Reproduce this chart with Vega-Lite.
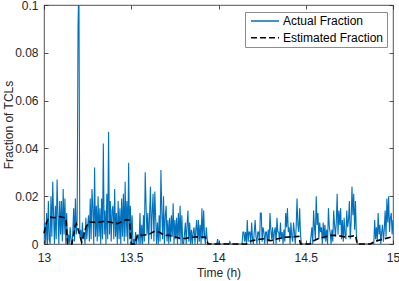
{
  "$schema": "https://vega.github.io/schema/vega-lite/v6.json",
  "width": 349,
  "height": 239,
  "autosize": "none",
  "padding": {"left": 44, "top": 5, "right": 6, "bottom": 37},
  "background": "white",
  "datasets": {
    "actual": [
      {"t":13.000,"v":0.002},{"t":13.005,"v":0.009},{"t":13.010,"v":0},{"t":13.015,"v":0.013},{"t":13.020,"v":0},{"t":13.025,"v":0.018},{"t":13.030,"v":0.002},{"t":13.035,"v":0},{"t":13.040,"v":0.020},{"t":13.045,"v":0.003},
      {"t":13.050,"v":0.026},{"t":13.055,"v":0.012},{"t":13.060,"v":0},{"t":13.065,"v":0.016},{"t":13.070,"v":0.002},{"t":13.075,"v":0.027},{"t":13.080,"v":0.012},{"t":13.085,"v":0},{"t":13.090,"v":0.018},{"t":13.095,"v":0.004},
      {"t":13.100,"v":0.018},{"t":13.105,"v":0.001},{"t":13.110,"v":0.023},{"t":13.115,"v":0.004},{"t":13.120,"v":0.019},{"t":13.125,"v":0},{"t":13.130,"v":0.013},{"t":13.135,"v":0},{"t":13.140,"v":0.004},{"t":13.145,"v":0},
      {"t":13.150,"v":0.007},{"t":13.155,"v":0.001},{"t":13.160,"v":0},{"t":13.165,"v":0.005},{"t":13.170,"v":0.015},{"t":13.175,"v":0.001},{"t":13.180,"v":0.019},{"t":13.185,"v":0.004},{"t":13.190,"v":0.010},{"t":13.195,"v":0.091},
      {"t":13.200,"v":0.110},{"t":13.205,"v":0.003},{"t":13.210,"v":0.006},{"t":13.215,"v":0},{"t":13.220,"v":0.009},{"t":13.225,"v":0.002},{"t":13.230,"v":0.005},{"t":13.235,"v":0},{"t":13.240,"v":0.011},{"t":13.245,"v":0.002},
      {"t":13.250,"v":0.007},{"t":13.255,"v":0.012},{"t":13.260,"v":0.001},{"t":13.265,"v":0.019},{"t":13.270,"v":0.002},{"t":13.275,"v":0.023},{"t":13.280,"v":0.015},{"t":13.285,"v":0},{"t":13.290,"v":0.032},{"t":13.295,"v":0.003},
      {"t":13.300,"v":0.016},{"t":13.305,"v":0.001},{"t":13.310,"v":0.020},{"t":13.315,"v":0.003},{"t":13.320,"v":0.015},{"t":13.325,"v":0},{"t":13.330,"v":0.019},{"t":13.335,"v":0.002},{"t":13.340,"v":0.042},{"t":13.345,"v":0.004},
      {"t":13.350,"v":0.014},{"t":13.355,"v":0},{"t":13.360,"v":0.021},{"t":13.365,"v":0.002},{"t":13.370,"v":0.047},{"t":13.375,"v":0.004},{"t":13.380,"v":0.018},{"t":13.385,"v":0.001},{"t":13.390,"v":0.014},{"t":13.395,"v":0.016},
      {"t":13.400,"v":0.002},{"t":13.405,"v":0.023},{"t":13.410,"v":0.003},{"t":13.415,"v":0.013},{"t":13.420,"v":0},{"t":13.425,"v":0.018},{"t":13.430,"v":0.002},{"t":13.435,"v":0.015},{"t":13.440,"v":0},{"t":13.445,"v":0.019},
      {"t":13.450,"v":0.003},{"t":13.455,"v":0.021},{"t":13.460,"v":0.001},{"t":13.465,"v":0.026},{"t":13.470,"v":0.003},{"t":13.475,"v":0.018},{"t":13.480,"v":0},{"t":13.485,"v":0.034},{"t":13.490,"v":0.002},{"t":13.495,"v":0.016},
      {"t":13.500,"v":0},{"t":13.505,"v":0.012},{"t":13.510,"v":0},{"t":13.515,"v":0.002},{"t":13.520,"v":0},{"t":13.525,"v":0.005},{"t":13.530,"v":0},{"t":13.535,"v":0.003},{"t":13.540,"v":0.004},{"t":13.545,"v":0},
      {"t":13.550,"v":0.013},{"t":13.555,"v":0},{"t":13.560,"v":0.008},{"t":13.565,"v":0},{"t":13.570,"v":0.012},{"t":13.575,"v":0.001},{"t":13.580,"v":0.030},{"t":13.585,"v":0.016},{"t":13.590,"v":0.004},{"t":13.595,"v":0.013},
      {"t":13.600,"v":0},{"t":13.605,"v":0.012},{"t":13.610,"v":0.024},{"t":13.615,"v":0.002},{"t":13.620,"v":0.013},{"t":13.625,"v":0.021},{"t":13.630,"v":0.001},{"t":13.635,"v":0.022},{"t":13.640,"v":0.011},{"t":13.645,"v":0},
      {"t":13.650,"v":0.009},{"t":13.655,"v":0},{"t":13.660,"v":0.012},{"t":13.665,"v":0.001},{"t":13.670,"v":0.031},{"t":13.675,"v":0.014},{"t":13.680,"v":0.002},{"t":13.685,"v":0.020},{"t":13.690,"v":0},{"t":13.695,"v":0.012},
      {"t":13.700,"v":0.016},{"t":13.705,"v":0.001},{"t":13.710,"v":0.010},{"t":13.715,"v":0},{"t":13.720,"v":0.011},{"t":13.725,"v":0.001},{"t":13.730,"v":0.012},{"t":13.735,"v":0.003},{"t":13.740,"v":0.017},{"t":13.745,"v":0},
      {"t":13.750,"v":0.010},{"t":13.755,"v":0.002},{"t":13.760,"v":0.011},{"t":13.765,"v":0},{"t":13.770,"v":0.013},{"t":13.775,"v":0.002},{"t":13.780,"v":0.016},{"t":13.785,"v":0},{"t":13.790,"v":0.012},{"t":13.795,"v":0},
      {"t":13.800,"v":0},{"t":13.805,"v":0.004},{"t":13.810,"v":0.009},{"t":13.815,"v":0},{"t":13.820,"v":0.008},{"t":13.825,"v":0.014},{"t":13.830,"v":0.001},{"t":13.835,"v":0.009},{"t":13.840,"v":0},{"t":13.845,"v":0.006},
      {"t":13.850,"v":0},{"t":13.855,"v":0.005},{"t":13.860,"v":0.007},{"t":13.865,"v":0},{"t":13.870,"v":0.006},{"t":13.875,"v":0.010},{"t":13.880,"v":0},{"t":13.885,"v":0.010},{"t":13.890,"v":0.001},{"t":13.895,"v":0.008},
      {"t":13.900,"v":0},{"t":13.905,"v":0.015},{"t":13.910,"v":0.002},{"t":13.915,"v":0.014},{"t":13.920,"v":0.003},{"t":13.925,"v":0},{"t":13.930,"v":0.007},{"t":13.935,"v":0.002},{"t":13.940,"v":0},{"t":13.990,"v":0},
      {"t":13.995,"v":0.002},{"t":14.000,"v":0},{"t":14.060,"v":0},{"t":14.065,"v":0.001},{"t":14.070,"v":0},{"t":14.135,"v":0},
      {"t":14.140,"v":0.005},{"t":14.145,"v":0.005},{"t":14.150,"v":0.001},{"t":14.155,"v":0.005},{"t":14.160,"v":0},{"t":14.165,"v":0.010},{"t":14.170,"v":0.001},{"t":14.175,"v":0.005},{"t":14.180,"v":0.005},{"t":14.185,"v":0},
      {"t":14.190,"v":0.009},{"t":14.195,"v":0.002},{"t":14.200,"v":0},{"t":14.205,"v":0.005},{"t":14.210,"v":0.010},{"t":14.215,"v":0.003},{"t":14.220,"v":0},{"t":14.225,"v":0.005},{"t":14.230,"v":0.005},{"t":14.235,"v":0},
      {"t":14.240,"v":0.013},{"t":14.245,"v":0.013},{"t":14.250,"v":0.001},{"t":14.255,"v":0.007},{"t":14.260,"v":0.005},{"t":14.265,"v":0},{"t":14.270,"v":0.005},{"t":14.275,"v":0.005},{"t":14.280,"v":0},{"t":14.285,"v":0.006},
      {"t":14.290,"v":0.001},{"t":14.295,"v":0.013},{"t":14.300,"v":0.006},{"t":14.305,"v":0.002},{"t":14.310,"v":0.007},{"t":14.315,"v":0},{"t":14.320,"v":0.005},{"t":14.325,"v":0.007},{"t":14.330,"v":0},{"t":14.335,"v":0.011},
      {"t":14.340,"v":0.005},{"t":14.345,"v":0.005},{"t":14.350,"v":0.001},{"t":14.355,"v":0.009},{"t":14.360,"v":0.002},{"t":14.365,"v":0.005},{"t":14.370,"v":0},{"t":14.375,"v":0.006},{"t":14.380,"v":0.001},{"t":14.385,"v":0.013},
      {"t":14.390,"v":0.007},{"t":14.395,"v":0.015},{"t":14.400,"v":0.005},{"t":14.405,"v":0.007},{"t":14.410,"v":0},{"t":14.415,"v":0.009},{"t":14.420,"v":0.003},{"t":14.425,"v":0.001},{"t":14.430,"v":0.009},{"t":14.435,"v":0.005},
      {"t":14.440,"v":0},{"t":14.445,"v":0.007},{"t":14.450,"v":0.019},{"t":14.455,"v":0.008},{"t":14.460,"v":0.005},{"t":14.465,"v":0.015},{"t":14.470,"v":0.004},{"t":14.475,"v":0},{"t":14.520,"v":0},
      {"t":14.525,"v":0},{"t":14.530,"v":0.003},{"t":14.535,"v":0.007},{"t":14.540,"v":0},{"t":14.545,"v":0.014},{"t":14.550,"v":0.007},{"t":14.555,"v":0.002},{"t":14.560,"v":0.020},{"t":14.565,"v":0.008},{"t":14.570,"v":0.013},
      {"t":14.575,"v":0.002},{"t":14.580,"v":0.009},{"t":14.585,"v":0.005},{"t":14.590,"v":0.007},{"t":14.595,"v":0},{"t":14.600,"v":0.009},{"t":14.605,"v":0.002},{"t":14.610,"v":0.008},{"t":14.615,"v":0.001},{"t":14.620,"v":0.006},
      {"t":14.625,"v":0},{"t":14.630,"v":0.015},{"t":14.635,"v":0.007},{"t":14.640,"v":0.005},{"t":14.645,"v":0},{"t":14.650,"v":0.006},{"t":14.655,"v":0.001},{"t":14.660,"v":0.014},{"t":14.665,"v":0.008},{"t":14.670,"v":0.003},
      {"t":14.675,"v":0.009},{"t":14.680,"v":0.021},{"t":14.685,"v":0.004},{"t":14.690,"v":0.014},{"t":14.695,"v":0.008},{"t":14.700,"v":0.015},{"t":14.705,"v":0.002},{"t":14.710,"v":0.010},{"t":14.715,"v":0.001},{"t":14.720,"v":0.011},
      {"t":14.725,"v":0.004},{"t":14.730,"v":0.002},{"t":14.735,"v":0.014},{"t":14.740,"v":0.007},{"t":14.745,"v":0.010},{"t":14.750,"v":0.018},{"t":14.755,"v":0.002},{"t":14.760,"v":0.009},{"t":14.765,"v":0.024},{"t":14.770,"v":0.012},
      {"t":14.775,"v":0.021},{"t":14.780,"v":0.006},{"t":14.785,"v":0.018},{"t":14.790,"v":0.004},{"t":14.795,"v":0},{"t":14.890,"v":0},
      {"t":14.895,"v":0.010},{"t":14.900,"v":0.002},{"t":14.905,"v":0.007},{"t":14.910,"v":0.001},{"t":14.915,"v":0.013},{"t":14.920,"v":0.004},{"t":14.925,"v":0.008},{"t":14.930,"v":0},{"t":14.935,"v":0.005},{"t":14.940,"v":0.008},
      {"t":14.945,"v":0.001},{"t":14.950,"v":0.006},{"t":14.955,"v":0.014},{"t":14.960,"v":0.003},{"t":14.965,"v":0.019},{"t":14.970,"v":0.009},{"t":14.975,"v":0.020},{"t":14.980,"v":0.005},{"t":14.985,"v":0.011},{"t":14.990,"v":0.013},
      {"t":14.995,"v":0.004},{"t":15.000,"v":0.010}
    ],
    "est": [
      {"t":13.000,"v":0.0045},{"t":13.015,"v":0.009},{"t":13.030,"v":0.0113},{"t":13.060,"v":0.011},{"t":13.090,"v":0.0115},{"t":13.120,"v":0.011},{"t":13.126,"v":0.0105},{"t":13.135,"v":0},{"t":13.160,"v":0},{"t":13.180,"v":0.0078},
      {"t":13.186,"v":0.0085},{"t":13.216,"v":0.0008},{"t":13.240,"v":0.007},{"t":13.260,"v":0.0092},{"t":13.300,"v":0.009},{"t":13.350,"v":0.0095},{"t":13.390,"v":0.009},{"t":13.420,"v":0.0085},{"t":13.450,"v":0.0095},{"t":13.470,"v":0.0102},
      {"t":13.490,"v":0.010},{"t":13.500,"v":0},{"t":13.520,"v":0},{"t":13.535,"v":0.0036},{"t":13.560,"v":0.0036},{"t":13.600,"v":0.004},{"t":13.630,"v":0.0052},{"t":13.660,"v":0.005},{"t":13.690,"v":0.0036},{"t":13.720,"v":0.0036},
      {"t":13.750,"v":0.003},{"t":13.780,"v":0.0023},{"t":13.810,"v":0.0023},{"t":13.840,"v":0.0028},{"t":13.880,"v":0.003},{"t":13.925,"v":0.0028},{"t":13.940,"v":0},{"t":14.160,"v":0},{"t":14.180,"v":0.0012},{"t":14.220,"v":0.0018},
      {"t":14.260,"v":0.0022},{"t":14.300,"v":0.0014},{"t":14.340,"v":0.0022},{"t":14.380,"v":0.0028},{"t":14.420,"v":0.003},{"t":14.460,"v":0.0032},{"t":14.470,"v":0},{"t":14.525,"v":0},{"t":14.540,"v":0.0012},{"t":14.570,"v":0.0022},
      {"t":14.600,"v":0.0028},{"t":14.640,"v":0.0036},{"t":14.680,"v":0.0036},{"t":14.720,"v":0.003},{"t":14.760,"v":0.0032},{"t":14.785,"v":0.0036},{"t":14.795,"v":0},{"t":14.870,"v":0},{"t":14.900,"v":0.0012},{"t":14.950,"v":0.0022},
      {"t":15.000,"v":0.003}
    ]
  },
  "layer": [
    {
      "data": {"name": "actual"},
      "mark": {"type": "line", "strokeWidth": 1.1, "clip": true, "interpolate": "linear"},
      "encoding": {
        "x": {"field": "t", "type": "quantitative",
              "scale": {"domain": [13, 15], "nice": false, "zero": false},
              "axis": {"orient": "bottom", "values": [13, 13.5, 14, 14.5, 15], "format": ".1~f", "title": "Time (h)", "labelPadding": 12, "titlePadding": 4, "labelFlush": false}},
        "y": {"field": "v", "type": "quantitative",
              "scale": {"domain": [0, 0.1], "nice": false},
              "axis": {"orient": "left", "values": [0, 0.02, 0.04, 0.06, 0.08, 0.1], "format": ".2~f", "title": "Fraction of TCLs", "labelPadding": 10, "labelFlush": false, "titleX": -36, "titleY": 119.5, "titleBaseline": "middle", "titleAngle": 270}},
        "color": {"datum": "Actual Fraction", "type": "nominal",
                  "scale": {"domain": ["Actual Fraction", "Estimated Fraction"], "range": ["#0072BD", "#000000"]},
                  "legend": {"title": null, "symbolType": "M-4,0H4", "symbolSize": 49}},
        "strokeDash": {"datum": "Actual Fraction", "type": "nominal",
                  "scale": {"domain": ["Actual Fraction", "Estimated Fraction"], "range": [[1, 0], [6, 3]]},
                  "legend": {"title": null, "symbolType": "M-4,0H4", "symbolSize": 49}}
      }
    },
    {
      "data": {"name": "est"},
      "mark": {"type": "line", "strokeWidth": 1.6},
      "encoding": {
        "x": {"field": "t", "type": "quantitative",
              "axis": {"orient": "top", "values": [13, 13.5, 14, 14.5, 15], "labels": false, "title": null}},
        "y": {"field": "v", "type": "quantitative",
              "axis": {"orient": "right", "values": [0, 0.02, 0.04, 0.06, 0.08, 0.1], "labels": false, "title": null}},
        "color": {"datum": "Estimated Fraction", "type": "nominal"},
        "strokeDash": {"datum": "Estimated Fraction", "type": "nominal"}
      }
    }
  ],
  "resolve": {"axis": {"x": "independent", "y": "independent"}},
  "config": {
    "view": {"stroke": "#262626", "strokeWidth": 0.8},
    "font": "Liberation Sans",
    "axis": {
      "grid": false, "domain": false,
      "ticks": true, "tickSize": -4, "tickColor": "#262626", "tickWidth": 0.8,
      "labelFont": "Liberation Sans", "labelFontSize": 12, "labelColor": "#262626",
      "titleFont": "Liberation Sans", "titleFontSize": 12, "titleFontWeight": "normal", "titleColor": "#262626"
    },
    "legend": {
      "orient": "none", "legendX": 201, "legendY": 7,
      "fillColor": "white", "strokeColor": "#8c8c8c", "padding": 3, "rowPadding": 4.7,
      "labelFont": "Liberation Sans", "labelFontSize": 12, "labelColor": "#000000",
      "symbolStrokeWidth": 1.5, "symbolOffset": 11, "labelOffset": 12
    }
  }
}
